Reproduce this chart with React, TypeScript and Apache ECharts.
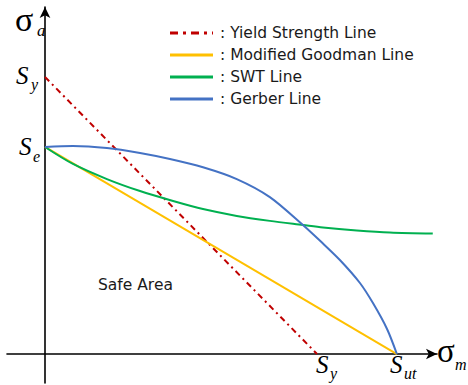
import React, { useEffect, useRef } from "react";
import * as echarts from "echarts";

// Normalised units: Sut = 100 on the mean-stress axis, Se = 100 on the amplitude axis
const yieldLine: number[][] = [[0, 133.8], [77.3, 0]];
const goodmanLine: number[][] = [[0, 100], [100, 0]];
const swtLine: number[][] = [
  [0, 100], [7.95, 91.8], [17.6, 84.5], [27.0, 78.7], [36.4, 73.9], [44.9, 70.0],
  [54.5, 66.7], [63.9, 64.3], [73.3, 62.3], [79.0, 61.1], [88.6, 59.7], [98.0, 58.7], [110.2, 58.2],
];
const gerberLine: number[][] = [
  [0, 100], [7.95, 100.5], [17.6, 99.5], [27.0, 97.1], [35.5, 94.2], [44.9, 90.2],
  [54.5, 84.5], [63.9, 75.8], [73.3, 62.3], [78.4, 54.3], [83.8, 45.4], [89.5, 34.3],
  [93.2, 24.6], [97.2, 12.1], [100, 0],
];
const seriesNames = [
  ": Yield Strength Line",
  ": Modified Goodman Line",
  ": SWT Line",
  ": Gerber Line",
];
const seriesColors = ["#C00000", "#FFC000", "#00B050", "#4472C4"];

export default function App() {
  const ref = useRef<HTMLDivElement>(null);
  useEffect(() => {
    if (!ref.current) return;
    const chart = echarts.init(ref.current, null, { renderer: "svg" });
    const serif = '"Liberation Serif", "Times New Roman", serif';
    const sans = '"DejaVu Sans", "Noto Sans", sans-serif';
    const lbl = (text: string, x: number, y: number, size: number, italic: boolean) => ({
      type: "text",
      x,
      y,
      silent: true,
      style: {
        text,
        font: `${italic ? "italic " : ""}${size}px ${serif}`,
        fill: "#000",
        verticalAlign: "middle",
        align: "left",
      },
    });
    const legendRowsY = [33, 55, 77, 99];
    const legendGraphics: any[] = [];
    seriesNames.forEach((n, i) => {
      legendGraphics.push({
        type: "line",
        silent: true,
        shape: { x1: 170, y1: legendRowsY[i], x2: 213, y2: legendRowsY[i] },
        style: {
          stroke: seriesColors[i],
          lineWidth: 3,
          lineDash: i === 0 ? [8, 5, 3, 5] : null,
        },
      });
      legendGraphics.push({
        type: "text",
        x: 220,
        y: legendRowsY[i],
        silent: true,
        style: {
          text: n,
          font: `15.5px ${sans}`,
          fill: "#1a1a1a",
          verticalAlign: "middle",
        },
      });
    });
    chart.setOption({
      animation: false,
      grid: { left: 7, right: 31, top: 7, bottom: 2, containLabel: false },
      xAxis: {
        type: "value",
        min: -10.8,
        max: 111.4,
        axisLine: {
          onZero: true,
          symbol: ["none", "arrow"],
          symbolSize: [8, 11],
          lineStyle: { color: "#000", width: 1.6 },
        },
        axisTick: { show: false },
        axisLabel: { show: false },
        splitLine: { show: false },
      },
      yAxis: {
        type: "value",
        min: -14,
        max: 167.6,
        axisLine: {
          show: true,
          onZero: true,
          symbol: ["none", "arrow"],
          symbolSize: [8, 11],
          lineStyle: { color: "#000", width: 1.6 },
        },
        axisTick: { show: false },
        axisLabel: { show: false },
        splitLine: { show: false },
      },
      series: [
        {
          type: "line",
          name: seriesNames[0],
          data: yieldLine,
          showSymbol: false,
          lineStyle: { color: seriesColors[0], width: 2, type: [6, 4, 2, 4] },
        },
        {
          type: "line",
          name: seriesNames[1],
          data: goodmanLine,
          showSymbol: false,
          lineStyle: { color: seriesColors[1], width: 2 },
        },
        {
          type: "line",
          name: seriesNames[2],
          data: swtLine,
          smooth: 0.3,
          showSymbol: false,
          lineStyle: { color: seriesColors[2], width: 2 },
        },
        {
          type: "line",
          name: seriesNames[3],
          data: gerberLine,
          smooth: 0.3,
          showSymbol: false,
          lineStyle: { color: seriesColors[3], width: 2 },
        },
      ],
      graphic: [
        lbl("σ", 15, 19, 34, false),
        lbl("a", 37, 30, 17, true),
        lbl("S", 16, 75, 25, true),
        lbl("y", 31, 84, 16, true),
        lbl("S", 19, 146, 25, true),
        lbl("e", 33, 156, 16, true),
        lbl("S", 316, 364, 25, true),
        lbl("y", 330, 373, 16, true),
        lbl("S", 390, 364, 25, true),
        lbl("ut", 404, 373, 16, true),
        lbl("σ", 437, 351, 33, false),
        lbl("m", 455, 364, 16, true),
        {
          type: "text",
          x: 98,
          y: 285,
          silent: true,
          style: {
            text: "Safe Area",
            font: `15.5px ${sans}`,
            fill: "#1a1a1a",
            verticalAlign: "middle",
          },
        },
        ...legendGraphics,
      ],
    });
    return () => chart.dispose();
  }, []);
  return (
    <div
      ref={ref}
      style={{ position: "absolute", left: 0, top: 0, width: 468, height: 385, background: "#fff" }}
    />
  );
}
